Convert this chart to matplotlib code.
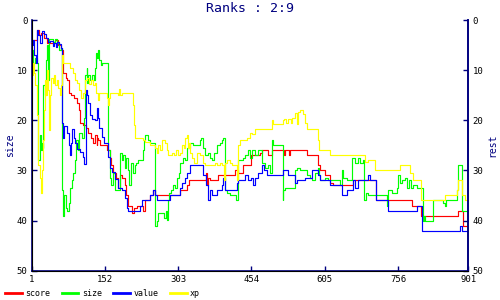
import matplotlib
matplotlib.use("Agg")
import matplotlib.pyplot as plt

# turn index / rank breakpoints (step series)
value_x = [1, 4, 6, 9, 12, 15, 18, 22, 26, 31, 35, 39, 45, 47, 51, 53, 57, 61, 64, 66,
           68, 74, 77, 80, 83, 85, 88, 91, 95, 101, 106, 109, 112, 115, 118, 122, 125, 131, 135, 138,
           140, 146, 151, 158, 162, 167, 173, 179, 187, 193, 197, 200, 224, 228, 245, 251, 256, 259, 286, 307,
           311, 317, 321, 327, 355, 360, 364, 368, 373, 382, 393, 396, 399, 424, 427, 441, 447, 454, 458, 461,
           467, 476, 479, 486, 518, 529, 544, 548, 564, 579, 592, 595, 616, 641, 651, 663, 667, 674, 695, 698,
           711, 736, 795, 805, 884, 887, 901]
value_y = [5, 4, 7, 8.6, 2, 3, 4.5, 2.2, 2.8, 3.5, 4.3, 4.1, 5.2, 4.5, 5.3, 4.3, 4.8, 5.5, 20.5, 23.5,
           21.2, 22.5, 25, 27, 24.5, 21.8, 23.5, 24.5, 25.8, 26.3, 27.3, 28.7, 14, 15, 16.5, 19, 19.7, 20, 17.5, 19.5,
           21.5, 23.3, 24.6, 27.3, 29.5, 30.3, 31.8, 33.5, 34, 35.5, 37.5, 38, 37, 36, 35, 34, 35, 36, 35, 33.5,
           32.5, 31.5, 30.5, 29, 31, 33, 36, 34, 35, 34, 33, 31.5, 34, 32.5, 32, 31, 32, 31.5, 33, 31.5,
           30.5, 29, 30, 31, 30, 31, 32.5, 32, 31.5, 30, 31, 32, 33, 35, 34, 32, 33.5, 32, 31, 32,
           36, 38, 37, 42, 41, 42, 42]

score_x = [1, 12, 16, 20, 26, 33, 49, 55, 61, 65, 72, 74, 78, 82, 88, 94, 98, 101, 107, 113,
           117, 123, 127, 131, 135, 136, 138, 142, 156, 162, 165, 168, 175, 178, 183, 187, 193, 196, 199, 208,
           212, 218, 230, 234, 245, 251, 255, 307, 321, 325, 361, 363, 365, 368, 385, 420, 426, 436, 453, 472,
           476, 488, 496, 521, 523, 531, 533, 568, 591, 595, 606, 616, 622, 663, 711, 785, 803, 880, 890, 901]
score_y = [4, 2, 3, 2.5, 3.5, 4.5, 4, 5, 6, 10.5, 11.5, 12, 14.5, 15, 15.5, 16.5, 18, 20.5, 21, 21.5,
           22.5, 23.5, 24.5, 23, 25, 23.5, 24, 25, 26, 27.5, 29, 30.5, 31.5, 33.5, 31, 31.5, 33, 35, 37, 38.5,
           37.5, 37, 38, 36, 35, 34, 35, 34, 33, 32, 30.5, 33, 31.5, 32, 31, 30, 30.5, 29, 27, 26.5,
           26, 27, 26, 27, 26, 27, 26, 27, 29, 30, 31, 32.5, 33, 32, 36, 37, 39, 38, 41, 41]

size_x = [1, 4, 8, 11, 13, 15, 18, 20, 22, 24, 25, 28, 30, 32, 35, 37, 45, 49, 53, 57,
          61, 64, 66, 68, 71, 74, 77, 80, 84, 87, 90, 93, 96, 98, 105, 109, 111, 114, 116, 118,
          121, 125, 129, 131, 134, 136, 138, 140, 143, 146, 159, 162, 165, 168, 173, 184, 187, 190, 193, 195,
          199, 201, 205, 209, 213, 216, 220, 230, 232, 235, 241, 245, 256, 260, 262, 274, 278, 280, 282, 284,
          288, 292, 296, 300, 304, 307, 313, 317, 321, 327, 333, 348, 351, 354, 358, 364, 368, 373, 377, 383,
          389, 393, 396, 400, 404, 410, 423, 426, 436, 441, 447, 451, 455, 461, 467, 476, 482, 488, 493, 496,
          498, 518, 520, 523, 544, 548, 554, 568, 575, 579, 585, 591, 593, 595, 606, 612, 636, 641, 643, 651,
          661, 667, 674, 678, 684, 686, 690, 694, 733, 735, 744, 754, 757, 760, 764, 770, 775, 779, 783, 787,
          795, 807, 810, 812, 829, 849, 853, 855, 877, 880, 889, 901]
size_y = [6, 8.5, 7.5, 8.5, 26, 28, 23, 26, 24.5, 25.5, 13, 15, 8, 5, 12, 3.8, 4.3, 3.8, 4.5, 6,
          5.5, 34, 39, 35, 37.5, 38, 36.5, 33.5, 32, 30.5, 28, 24, 26, 22.5, 23.5, 19.5, 11, 9.6, 12.5, 11,
          12, 11, 12, 9.5, 6.5, 7.5, 6, 8, 9, 8.6, 26, 31.5, 33, 30.5, 34, 26.5, 28, 27, 29.5, 27.5,
          30, 33, 28.5, 30.5, 29, 28.5, 28, 26, 24, 23, 24, 24.5, 41, 40, 38.5, 39.5, 38, 39.8, 36, 34.5,
          34, 33, 33.5, 31.5, 30.5, 28.5, 27.5, 28, 25.5, 24.6, 25, 24, 23.5, 25.5, 27, 26.5, 27.5, 28, 26.5, 25,
          24.5, 24, 23.5, 34, 34.5, 35, 36, 28, 27.5, 27, 26, 27.5, 26, 27, 26, 28.5, 29.5, 29, 30.5, 24,
          25, 36, 34, 33.5, 30, 29.5, 30, 31, 31.5, 32, 30.5, 29.5, 31, 32, 31.5, 32, 33, 30, 31.5, 32,
          27.5, 28.5, 27.5, 28.5, 28, 36, 34.5, 35, 37, 34, 34.5, 33.5, 31, 32.5, 32, 31.5, 33.5, 32, 33.5, 33,
          33.5, 40, 39, 40, 36, 36.5, 37, 36, 34, 29, 38, 38]

xp_x = [1, 4, 6, 8, 12, 13, 15, 18, 20, 22, 24, 26, 28, 30, 32, 35, 37, 39, 41, 45,
        47, 49, 53, 55, 59, 61, 63, 66, 80, 86, 90, 94, 98, 102, 107, 111, 115, 119, 123, 127,
        131, 134, 137, 139, 156, 158, 161, 163, 179, 181, 183, 187, 209, 211, 213, 230, 234, 245, 255, 259,
        261, 265, 270, 276, 280, 282, 290, 294, 298, 302, 307, 311, 315, 317, 321, 323, 325, 327, 331, 336,
        342, 348, 354, 358, 379, 382, 389, 393, 397, 399, 404, 410, 414, 424, 426, 430, 445, 451, 455, 461,
        496, 498, 519, 521, 525, 529, 535, 537, 544, 548, 550, 554, 560, 564, 568, 591, 593, 616, 688, 694,
        709, 760, 781, 787, 804, 853, 877, 880, 889, 894, 901]
xp_y = [11, 8.5, 10.5, 13, 19, 24, 29, 31.5, 34.5, 30, 24, 18, 12, 15, 10, 14, 22, 15, 11.5, 12.5,
        11, 13, 12, 13.5, 15, 13, 7, 8.6, 9.6, 10.6, 12, 12.5, 14, 15.5, 14.5, 12, 11.5, 12.8, 12, 13,
        12.5, 14.5, 16, 14.5, 15.5, 17, 15.5, 14.5, 15, 13.8, 15, 14.5, 17, 21, 23.6, 24, 24.3, 25, 25.5, 26.5,
        25, 26, 24, 24.5, 26, 27, 26.5, 27, 26, 27, 26.5, 25, 25.5, 23.5, 23, 25.5, 24.5, 26.5, 27.5, 28.5,
        26.5, 27, 28.5, 29, 28.5, 29, 28.5, 29, 32, 28.5, 28, 28.5, 29, 32, 25, 24, 23.5, 22.6, 22.8, 21.8,
        20, 20.8, 20, 19.8, 20.5, 19.8, 20.5, 19.6, 18.6, 20.8, 18.3, 18, 18.8, 20.5, 21.8, 24, 26, 27, 28.3, 28,
        30, 29, 30.5, 32, 36, 35, 34, 32, 35, 36, 36]

xticks = [1, 152, 303, 454, 605, 756, 901]
yticks = [0, 10, 20, 30, 40, 50]

navy = '#000080'
plt.rcParams['font.family'] = 'DejaVu Sans Mono'

fig = plt.figure(figsize=(5, 3), dpi=100)
ax = fig.add_axes([0.0634, 0.0977, 0.8732, 0.8356])

ax.plot(score_x, score_y, drawstyle='steps-post', color='#ff0000', lw=0.85, label='score')
ax.plot(size_x, size_y, drawstyle='steps-post', color='#00ff00', lw=0.85, label='size')
ax.plot(value_x, value_y, drawstyle='steps-post', color='#0000ff', lw=0.85, label='value')
ax.plot(xp_x, xp_y, drawstyle='steps-post', color='#ffff00', lw=0.85, label='xp')

ax.set_xlim(1, 901)
ax.set_ylim(50, 0)
ax.set_xticks(xticks)
ax.set_yticks(yticks)
ax.tick_params(direction='in', length=3.5, width=1, color=navy, labelsize=6.5, labelcolor='black', pad=3)
ax.spines['top'].set_visible(False)
for s in ['left', 'right', 'bottom']:
    ax.spines[s].set_color(navy)
    ax.spines[s].set_linewidth(1.2)
ax.set_ylabel('size', color=navy, fontsize=7, labelpad=1)

ax2 = ax.twinx()
ax2.set_ylim(50, 0)
ax2.set_yticks(yticks)
ax2.tick_params(direction='in', length=3.5, width=1, color=navy, labelsize=6.5, labelcolor='black', pad=3)
ax2.spines['top'].set_visible(False)
ax2.spines['right'].set_color(navy)
ax2.spines['right'].set_linewidth(1.2)
ax2.set_ylabel('rest', color=navy, fontsize=7, labelpad=3)

fig.text(0.5, 0.97, 'Ranks : 2:9', color=navy, fontsize=9.5, ha='center', va='center')

fig.legend(loc='lower left', bbox_to_anchor=(0.0, -0.01), ncol=4, frameon=False, fontsize=6,
           handlelength=2.0, handletextpad=0.4, columnspacing=1.4, borderaxespad=0.2)
for line in fig.legends[0].get_lines():
    line.set_linewidth(2)

fig.savefig('out.png', dpi=100)
